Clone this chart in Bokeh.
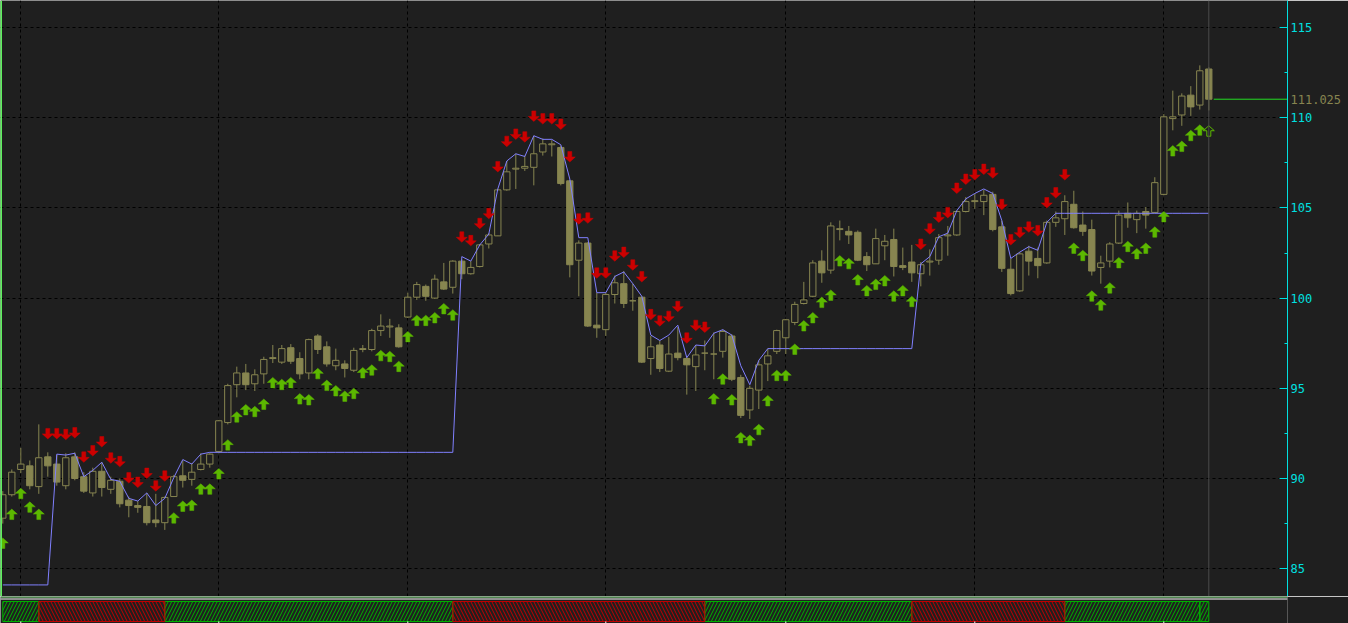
from bokeh.plotting import figure
from bokeh.models import (Range1d, SingleIntervalTicker, FixedTicker, Span, Grid, LinearAxis,
                          ColumnDataSource)
from bokeh.layouts import column
from bokeh.embed import file_html
from bokeh.resources import INLINE

# ---------------- data ----------------
opens = [87.8, 89.1, 90.5, 90.7, 89.55, 91.2, 90.8, 89.6, 91.2, 90.1,
         89.2, 90.4, 89.4, 89.85, 88.8, 88.5, 88.45, 87.7, 87.55, 89.0,
         90.15, 89.95, 90.5, 90.8, 91.5, 93.1, 95.2, 95.85, 95.25, 95.8,
         96.65, 96.45, 97.25, 96.65, 95.85, 97.9, 97.3, 96.25, 96.35, 96.0,
         97.15, 97.15, 98.2, 98.4, 98.35, 98.95, 100.05, 100.65, 100.0, 100.9,
         100.6, 102.05, 101.35, 101.75, 103.0, 103.45, 106.0, 107.15, 107.2, 107.25,
         108.1, 108.5, 108.35, 106.5, 102.1, 103.05, 98.5, 98.25, 100.2, 100.8,
         99.85, 100.05, 96.65, 97.4, 95.95, 96.95, 96.65, 96.2, 96.95, 96.9,
         97.05, 97.9, 95.6, 93.8, 94.9, 96.35, 97.05, 97.8, 98.65, 99.7,
         100.1, 102.05, 101.55, 103.8, 103.7, 103.65, 102.3, 101.9, 102.9, 103.25,
         101.8, 102.0, 101.35, 102.0, 102.1, 103.45, 103.5, 104.8, 105.35, 105.35,
         105.75, 103.95, 101.6, 100.4, 102.6, 102.2, 101.95, 104.2, 104.4, 105.2,
         104.05, 103.8, 101.7, 102.05, 103.05, 104.7, 104.35, 104.8, 104.75, 105.75,
         109.95, 110.15, 111.25, 110.7, 112.7]
highs = [89.3, 90.5, 91.7, 91.0, 93.0, 91.45, 91.3, 91.4, 91.45, 90.35,
         90.6, 90.9, 90.1, 90.0, 89.0, 88.75, 89.2, 89.15, 89.0, 90.2,
         91.0, 90.85, 91.4, 91.4, 93.25, 95.25, 96.2, 96.35, 96.05, 96.75,
         97.4, 97.4, 97.45, 97.0, 97.75, 98.0, 97.6, 97.2, 96.55, 97.25,
         97.4, 98.3, 99.1, 98.85, 98.55, 100.3, 100.9, 100.75, 101.3, 101.95,
         102.1, 102.15, 102.05, 103.0, 103.6, 106.05, 107.6, 108.0, 107.9, 109.0,
         108.85, 108.75, 108.45, 106.55, 103.2, 103.1, 100.3, 100.3, 101.25, 101.5,
         100.8, 100.1, 97.9, 97.65, 97.85, 98.4, 96.75, 97.4, 97.65, 98.1,
         98.25, 98.0, 95.75, 95.15, 96.55, 97.2, 98.25, 98.85, 99.8, 100.9,
         102.1, 102.65, 104.2, 104.3, 104.0, 103.75, 102.55, 103.85, 103.5, 103.85,
         102.8, 102.95, 102.0, 102.7, 103.55, 104.0, 104.85, 105.6, 105.8, 106.0,
         105.9, 104.3, 102.2, 102.55, 102.9, 102.8, 104.3, 104.8, 105.7, 105.95,
         104.8, 104.35, 102.35, 103.1, 104.85, 105.3, 104.85, 105.05, 106.7, 110.2,
         111.5, 111.35, 111.75, 112.9, 112.8]
lows = [87.5, 89.0, 90.3, 89.4, 89.15, 90.1, 89.6, 89.4, 89.9, 89.2,
        89.0, 89.0, 89.15, 88.4, 87.85, 88.1, 87.4, 87.3, 87.15, 89.0,
        89.5, 89.6, 90.45, 90.6, 91.4, 93.0, 94.5, 94.9, 94.85, 95.25,
        96.4, 96.35, 96.35, 95.5, 95.5, 96.9, 96.2, 96.0, 95.6, 95.9,
        97.0, 97.05, 97.9, 97.8, 97.25, 98.9, 99.9, 99.85, 99.95, 100.45,
        100.25, 101.05, 101.3, 101.7, 102.75, 103.45, 105.95, 106.05, 107.05, 106.25,
        107.9, 107.85, 106.25, 101.15, 100.1, 98.4, 97.8, 97.9, 99.7, 99.45,
        99.3, 96.4, 95.75, 95.9, 95.9, 96.55, 94.65, 94.85, 96.0, 95.5,
        96.7, 95.4, 93.35, 93.3, 93.85, 95.4, 96.9, 96.9, 98.5, 99.65,
        100.05, 100.85, 101.35, 103.2, 103.0, 102.05, 101.5, 101.9, 102.1, 101.2,
        101.55, 100.9, 100.65, 101.25, 101.85, 102.35, 103.45, 104.75, 104.95, 104.6,
        103.7, 101.45, 100.15, 100.35, 101.25, 101.1, 101.9, 103.95, 103.5, 103.85,
        103.45, 101.25, 100.8, 101.7, 103.0, 103.9, 103.6, 103.85, 104.7, 105.7,
        109.3, 109.55, 110.1, 110.45, 110.4]
closes = [89.1, 90.35, 90.8, 89.6, 91.15, 90.7, 89.8, 91.15, 90.0, 89.3,
          90.4, 89.5, 89.9, 88.6, 88.5, 88.4, 87.55, 87.55, 88.95, 90.1,
          89.9, 90.35, 90.8, 91.35, 93.2, 95.15, 95.85, 95.2, 95.75, 96.6,
          96.7, 97.2, 96.5, 95.8, 97.7, 97.15, 96.35, 96.55, 96.1, 97.1,
          97.2, 98.2, 98.45, 98.45, 97.3, 100.05, 100.75, 100.1, 101.05, 100.5,
          102.05, 101.35, 101.7, 102.95, 103.5, 106.0, 107.0, 107.2, 107.3, 108.0,
          108.55, 108.55, 106.35, 101.85, 103.05, 98.45, 98.35, 100.2, 100.85, 99.7,
          99.85, 96.45, 97.3, 96.1, 96.9, 96.7, 96.3, 96.85, 96.95, 96.9,
          98.15, 95.5, 93.5, 95.0, 96.3, 96.8, 98.2, 98.8, 99.65, 99.9,
          101.95, 101.4, 104.0, 103.85, 103.5, 102.1, 101.85, 103.3, 103.15, 101.75,
          101.7, 101.4, 101.85, 102.05, 103.35, 103.5, 104.8, 105.35, 105.4, 105.7,
          103.8, 101.65, 100.25, 102.45, 102.05, 101.8, 104.2, 104.45, 105.35, 103.9,
          103.7, 101.5, 101.95, 103.0, 104.6, 104.45, 104.7, 104.6, 106.4, 110.05,
          110.05, 111.2, 110.6, 112.6, 111.025]

# arrow price (centre) per bar and its direction: U = green up arrow, D = red down arrow
arrow_price = [86.4, 88.0, 89.15, 88.4, 88.0,
               92.5, 92.5, 92.45, 92.55, 91.2, 91.55, 92.05, 91.15, 90.95, 90.05, 89.8, 90.3, 89.6, 90.15,
               87.8, 88.45, 88.5, 89.4, 89.4, 90.25, 91.85, 93.4, 93.8, 93.7, 94.1, 95.3, 95.2, 95.3,
               94.4, 94.35, 95.8, 95.15, 94.85, 94.55, 94.7, 95.85, 96.0, 96.8, 96.75, 96.2, 97.85,
               98.75, 98.75, 98.9, 99.4, 99.05,
               103.4, 103.2, 104.15, 104.7, 107.3, 108.7, 109.1, 108.95, 110.1, 109.95, 109.95, 109.65,
               107.85, 104.4, 104.45, 101.4, 101.4, 102.35, 102.55, 101.85, 101.2, 99.1, 98.75, 99.0,
               99.55, 97.8, 98.5, 98.4,
               94.4, 95.5, 94.35, 92.25, 92.1, 92.7, 94.3, 95.7, 95.7, 97.15, 98.45, 98.9, 99.75,
               100.15, 102.05, 101.9, 101.0, 100.4, 100.75, 100.95, 100.1, 100.4, 99.8,
               103.0, 103.85, 104.5, 104.75, 106.1, 106.6, 106.85, 107.15, 106.95, 105.2, 103.25,
               103.65, 103.95, 103.75, 105.3, 105.85, 106.85,
               102.75, 102.35, 100.1, 99.6, 100.55, 101.95, 102.85, 102.45, 102.75, 103.65, 104.5,
               108.15, 108.4, 109.0, 109.3, 109.25]
arrow_dir = ("UUUUU"
             "DDDDD" "DDDDD" "DDDD"
             "UUUUU" "UUUUU" "UUUUU" "UUUUU" "UUUUU" "UUUUU" "UU"
             "DDDDD" "DDDDD" "DDDDD" "DDDDD" "DDDDD" "DDD"
             "UUUUU" "UUUUU" "UUUUU" "UUUUU" "UUU"
             "DDDDD" "DDDDD" "DDDDD" "DD"
             "UUUUU" "UUUUU" "UUUUU" "U")

# trailing line
trail = [84.1, 84.1, 84.1, 84.1, 84.1, 84.1,
         91.35, 91.3, 91.4, 90.1, 90.45, 90.9, 89.95, 89.85, 88.9, 88.75, 89.2, 88.5, 88.9,
         90.05, 91.05, 90.8, 91.35, 91.45,
         91.45, 91.45, 91.45, 91.45, 91.45, 91.45, 91.45, 91.45, 91.45, 91.45, 91.45, 91.45,
         91.45, 91.45, 91.45, 91.45, 91.45, 91.45, 91.45, 91.45, 91.45, 91.45, 91.45, 91.45,
         91.45, 91.45, 91.45,
         102.3, 102.05, 102.95, 103.55, 106.05, 107.6, 108.0, 107.85, 109.0, 108.8, 108.8, 108.5,
         106.6, 103.35, 103.35, 100.3, 100.3, 101.2, 101.45, 100.8, 100.1, 97.95, 97.65, 97.95,
         98.5, 96.7, 97.4, 97.35, 98.05, 98.25, 97.95, 96.25, 95.2, 96.55, 97.2,
         97.2, 97.2, 97.2, 97.2, 97.2, 97.2, 97.2, 97.2, 97.2, 97.2, 97.2, 97.2, 97.2, 97.2,
         97.2, 97.2,
         101.9, 102.3, 103.4, 103.6, 104.85, 105.5, 105.8, 106.05, 105.8, 104.3, 102.2, 102.55,
         102.85, 102.65, 104.2, 104.7,
         104.7, 104.7, 104.7, 104.7, 104.7, 104.7, 104.7, 104.7, 104.7, 104.7, 104.7, 104.7,
         104.7, 104.7, 104.7, 104.7, 104.7]

grid_bars = [2, 24, 45, 67, 87, 108, 129]          # vertical grid / bottom ticks
seg_start = [0, 4, 18, 50, 78, 101, 118, 133]        # trend bands (bottom pane)
seg_end = [4, 18, 50, 78, 101, 118, 133, 134]
seg_dir = ["U", "D", "U", "D", "U", "D", "U", "U"]

# ---------------- styling / layout ----------------
BG = "#1f1f1f"
OLIVE = "#878550"
UPC = "#5cb800"
DNC = "#cc0000"
CYAN = "#00e0e0"
FONT = "DejaVu Sans Mono"
W = 1348
H_MAIN = 596
H_BOT = 27
FRAME_W = 1287
X0 = -0.2556
X1 = X0 + FRAME_W / 9.0
Y1 = 115 + 27 / 18.04
Y0 = 115 - (H_MAIN - 27) / 18.04
PX_X = (X1 - X0) / FRAME_W
PX_Y = (Y1 - Y0) / H_MAIN

n = len(closes)
idx = list(range(n))
xr = Range1d(X0, X1)

p = figure(width=W, height=H_MAIN, x_range=xr, y_range=Range1d(Y0, Y1),
           output_backend="svg", toolbar_location=None, x_axis_location=None,
           y_axis_location="right", background_fill_color=BG, border_fill_color=BG,
           min_border_left=0, min_border_top=0, min_border_bottom=0,
           min_border_right=W - FRAME_W, outline_line_color=None)
p.grid.visible = False

ya = p.yaxis[0]
ya.ticker = SingleIntervalTicker(interval=5, num_minor_ticks=2)
ya.axis_line_color = CYAN
ya.major_tick_line_color = CYAN
ya.minor_tick_line_color = CYAN
ya.major_tick_in = 8
ya.major_tick_out = 0
ya.minor_tick_in = 3
ya.minor_tick_out = 0
ya.major_label_text_color = CYAN
ya.major_label_text_font = FONT
ya.major_label_text_font_size = "12px"
ya.major_label_standoff = 3

# second right axis carrying only the last-price label, pulled back under the first one
pa = LinearAxis(ticker=FixedTicker(ticks=[closes[-1]]), axis_line_color=None,
                major_tick_line_color=None, minor_tick_line_color=None,
                major_label_text_color=OLIVE, major_label_text_font=FONT,
                major_label_text_font_size="12px", major_label_standoff=-31,
                major_label_overrides={closes[-1]: "%.3f" % closes[-1]})
p.add_layout(pa, "right")

p.add_layout(Grid(dimension=0, ticker=FixedTicker(ticks=grid_bars), grid_line_color="black",
                  grid_line_dash="3 3", grid_line_width=1))
p.add_layout(Grid(dimension=1, ticker=SingleIntervalTicker(interval=5), grid_line_color="black",
                  grid_line_dash="3 3", grid_line_width=1))

# last-bar cursor and left border
p.add_layout(Span(location=n - 1, dimension="height", line_color="#4a4a4a", line_width=1))
p.add_layout(Span(location=X0, dimension="height", line_color="#5cf05c", line_width=3))

# candles
body_top = [max(o, c) for o, c in zip(opens, closes)]
body_bot = [min(o, c) for o, c in zip(opens, closes)]
fills = [BG if c >= o else OLIVE for o, c in zip(opens, closes)]
csrc = ColumnDataSource(dict(x=idx, h=highs, l=lows, t=body_top, b=body_bot, f=fills))
p.segment(x0="x", y0="h", x1="x", y1="l", source=csrc, line_color=OLIVE, line_width=1)
p.vbar(x="x", width=0.7, top="t", bottom="b", source=csrc, fill_color="f",
       line_color=OLIVE, line_width=1)

# trailing line
p.line(idx, trail, line_color="#8080ff", line_width=1)

# arrows
shape = [(0, 5.5), (5.5, 0.5), (2, 0.5), (2, -5), (-2, -5), (-2, 0.5), (-5.5, 0.5)]
def arrow(i, v, d):
    s = 1 if d == "U" else -1
    return [i + dx * PX_X for dx, dy in shape], [v + s * dy * PX_Y for dx, dy in shape]

gx, gy, rx, ry = [], [], [], []
for i, (v, d) in enumerate(zip(arrow_price, arrow_dir)):
    if i == n - 1:
        continue
    xs, ys = arrow(i, v, d)
    if d == "U":
        gx.append(xs); gy.append(ys)
    else:
        rx.append(xs); ry.append(ys)
p.patches(gx, gy, fill_color=UPC, line_color=UPC, line_width=0.5)
p.patches(rx, ry, fill_color=DNC, line_color=DNC, line_width=0.5)
lx, ly = arrow(n - 1, arrow_price[-1], arrow_dir[-1])
p.patches([lx], [ly], fill_alpha=0, line_color=UPC if arrow_dir[-1] == "U" else DNC, line_width=1)

# last price line
p.segment(x0=[n - 1 + 0.55], x1=[X1], y0=[closes[-1]], y1=[closes[-1]],
          line_color="#22dd22", line_width=1)

# ---------------- bottom pane (same x scale as the price pane) ----------------
p2 = figure(width=W, height=H_BOT, x_range=xr, y_range=Range1d(H_BOT, 0),
            output_backend="svg", toolbar_location=None, x_axis_location=None,
            y_axis_location=None, background_fill_color=BG, border_fill_color=BG,
            min_border_left=0, min_border_top=0, min_border_bottom=0,
            min_border_right=W - FRAME_W, outline_line_color=None)
p2.grid.visible = False
p2.add_layout(Span(location=0.5, dimension="width", line_color="#80ee80", line_width=1))
p2.add_layout(Span(location=2.5, dimension="width", line_color="#ffffff", line_width=1))

for d, col, hp in (("U", "#00b000", "/"), ("D", "#c00000", "\\")):
    L = [a for a, k in zip(seg_start, seg_dir) if k == d]
    R = [b for b, k in zip(seg_end, seg_dir) if k == d]
    p2.quad(left=L, right=R, top=[5] * len(L), bottom=[25] * len(L), fill_alpha=0,
            hatch_pattern=hp, hatch_color=col, hatch_scale=7, hatch_weight=1,
            line_color=col, line_width=1)
p2.segment(x0=grid_bars, x1=grid_bars, y0=[25] * len(grid_bars), y1=[27] * len(grid_bars),
           line_color="#ffffff", line_width=1)

layout = column(p, p2, spacing=0)
open("out.html", "w").write(file_html(layout, INLINE))
